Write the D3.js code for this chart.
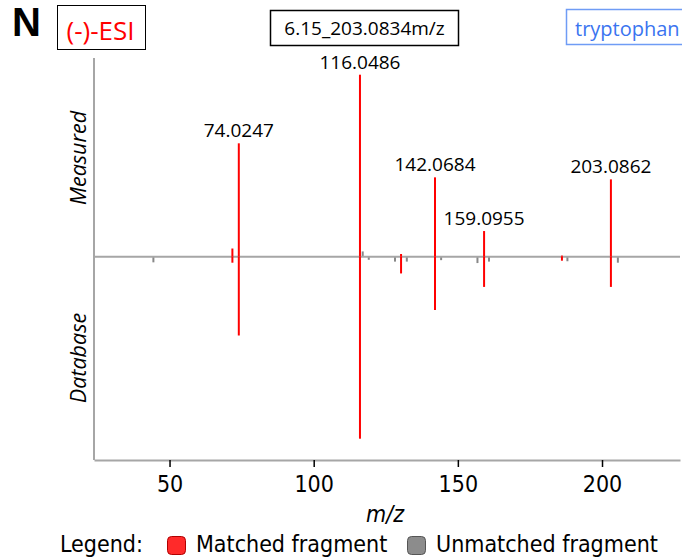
<!DOCTYPE html>
<html>
<head>
<meta charset="utf-8">
<script src="https://cdn.jsdelivr.net/npm/d3@7"></script>
<style>
  body { margin: 0; background: #fff; }
  svg { display: block; }
</style>
</head>
<body>
<svg id="chart" width="682" height="558"></svg>
<script>
// Matched fragments: measured (up) vs database (down), relative intensity %
const matchedMz   = [71.8, 74.0247, 116.0486, 130.3, 142.0684, 159.0955, 186.1, 203.0862];
const measuredInt = [4.5, 62.3, 100, 1.5, 43.6, 14.1, 0.6, 42.5];
const databaseInt = [3.3, 43.3, 100, 9.2, 29.3, 16.6, 2.2, 16.6];

// Peaks that carry a label
const labelMz = [74.0247, 116.0486, 142.0684, 159.0955, 203.0862];
const labelText = ["74.0247", "116.0486", "142.0684", "159.0955", "203.0862"];

// Unmatched fragments (negative = database side)
const unmatchedMz  = [44.4, 117.0, 119.1, 128.2, 132.3, 144.2, 156.8, 160.8, 188.0, 205.5];
const unmatchedInt = [-2.0, 1.8, -0.6, -1.6, -1.6, -0.8, -2.4, -1.6, -1.4, -2.2];

const xTicks = [50, 100, 150, 200];

const svg = d3.select("#chart");

const x = d3.scaleLinear().domain([23.8, 227.05]).range([94, 680]);
const y = d3.scaleLinear().domain([-100, 100]).range([256.7 + 182, 256.7 - 182]);

const axisColor = "#a6a6a6";
const labelFont = "'Open Sans', sans-serif";
const tickFont = "'DejaVu Sans Condensed', 'DejaVu Sans', sans-serif";

// Axes frame
svg.append("line")
    .attr("x1", 94).attr("x2", 94).attr("y1", 58).attr("y2", 460)
    .attr("stroke", axisColor).attr("stroke-width", 2);

const xAxis = svg.append("g")
    .attr("transform", "translate(0,460)")
    .call(d3.axisBottom(x).tickValues(xTicks).tickSize(7).tickSizeOuter(0).tickPadding(9));
xAxis.select(".domain").attr("stroke", axisColor).attr("stroke-width", 2);
xAxis.selectAll(".tick line").attr("stroke", "#000").attr("stroke-width", 1.5);
xAxis.selectAll(".tick text")
    .attr("font-family", tickFont).attr("font-size", 23).attr("fill", "#000");

// Unmatched fragments (gray)
svg.append("g").selectAll("line")
    .data(unmatchedMz)
    .join("line")
    .attr("x1", d => x(d)).attr("x2", d => x(d))
    .attr("y1", y(0))
    .attr("y2", (d, i) => y(unmatchedInt[i]) + (unmatchedInt[i] < 0 ? 2 : -2))
    .attr("stroke", "#888").attr("stroke-width", 2);

// Zero baseline
svg.append("line")
    .attr("x1", 94).attr("x2", 680).attr("y1", y(0)).attr("y2", y(0))
    .attr("stroke", axisColor).attr("stroke-width", 2);

// Matched fragments (red)
const peaks = svg.append("g");
peaks.selectAll("line.meas")
    .data(matchedMz)
    .join("line")
    .attr("class", "meas")
    .attr("x1", d => x(d)).attr("x2", d => x(d))
    .attr("y1", y(0)).attr("y2", (d, i) => y(measuredInt[i]))
    .attr("stroke", "#ff0000").attr("stroke-width", 2);
peaks.selectAll("line.db")
    .data(matchedMz)
    .join("line")
    .attr("class", "db")
    .attr("x1", d => x(d)).attr("x2", d => x(d))
    .attr("y1", y(0)).attr("y2", (d, i) => y(-databaseInt[i]))
    .attr("stroke", "#ff0000").attr("stroke-width", 2);

// Peak labels
svg.append("g").selectAll("text")
    .data(labelMz)
    .join("text")
    .attr("x", d => x(d))
    .attr("y", d => y(measuredInt[matchedMz.indexOf(d)]) - 6)
    .attr("text-anchor", "middle")
    .attr("font-family", labelFont).attr("font-size", 19)
    .text((d, i) => labelText[i]);

// Side labels
svg.append("text")
    .attr("transform", "translate(86,158) rotate(-90)")
    .attr("text-anchor", "middle")
    .attr("font-family", labelFont).attr("font-style", "italic").attr("font-size", 21.5)
    .text("Measured");
svg.append("text")
    .attr("transform", "translate(86,358) rotate(-90)")
    .attr("text-anchor", "middle")
    .attr("font-family", labelFont).attr("font-style", "italic").attr("font-size", 21.5)
    .text("Database");

// x title
svg.append("text")
    .attr("x", 385).attr("y", 522)
    .attr("text-anchor", "middle")
    .attr("font-family", tickFont).attr("font-style", "italic").attr("font-size", 23)
    .text("m/z");

// Header
svg.append("text")
    .attr("x", 12).attr("y", 36)
    .attr("font-family", "'Liberation Sans Narrow', 'Liberation Sans', Arial, sans-serif")
    .attr("font-weight", "bold").attr("font-size", 40)
    .text("N");

svg.append("rect")
    .attr("x", 57.5).attr("y", 5.5).attr("width", 88).attr("height", 44)
    .attr("fill", "#fff").attr("stroke", "#000").attr("stroke-width", 1);
svg.append("text")
    .attr("x", 100.5).attr("y", 39.5)
    .attr("text-anchor", "middle")
    .attr("font-family", labelFont).attr("font-size", 26).attr("fill", "#ff0000")
    .text("(-)-ESI");

svg.append("rect")
    .attr("x", 270.5).attr("y", 10.5).attr("width", 188).attr("height", 35)
    .attr("fill", "#fff").attr("stroke", "#000").attr("stroke-width", 1.5);
svg.append("text")
    .attr("x", 364.5).attr("y", 35)
    .attr("text-anchor", "middle")
    .attr("font-family", labelFont).attr("font-size", 19)
    .text("6.15_203.0834m/z");

svg.append("rect")
    .attr("x", 566.5).attr("y", 9.5).attr("width", 130).attr("height", 35)
    .attr("fill", "#fff").attr("stroke", "#6f9cf5").attr("stroke-width", 1.5);
svg.append("text")
    .attr("x", 575).attr("y", 35.5)
    .attr("font-family", labelFont).attr("font-size", 20).attr("fill", "#3a74f0")
    .text("tryptophan");

// Legend
const legend = svg.append("g").attr("font-family", tickFont).attr("font-size", 23);
legend.append("text").attr("x", 60).attr("y", 552).text("Legend:");
legend.append("rect")
    .attr("x", 167.5).attr("y", 536.5).attr("width", 18).attr("height", 18).attr("rx", 4)
    .attr("fill", "#ff2a2a").attr("stroke", "#b00000").attr("stroke-width", 1);
legend.append("text").attr("x", 196).attr("y", 552).text("Matched fragment");
legend.append("rect")
    .attr("x", 407.5).attr("y", 536.5).attr("width", 18).attr("height", 18).attr("rx", 4)
    .attr("fill", "#8c8c8c").attr("stroke", "#555").attr("stroke-width", 1);
legend.append("text").attr("x", 436).attr("y", 552).text("Unmatched fragment");
</script>
</body>
</html>
